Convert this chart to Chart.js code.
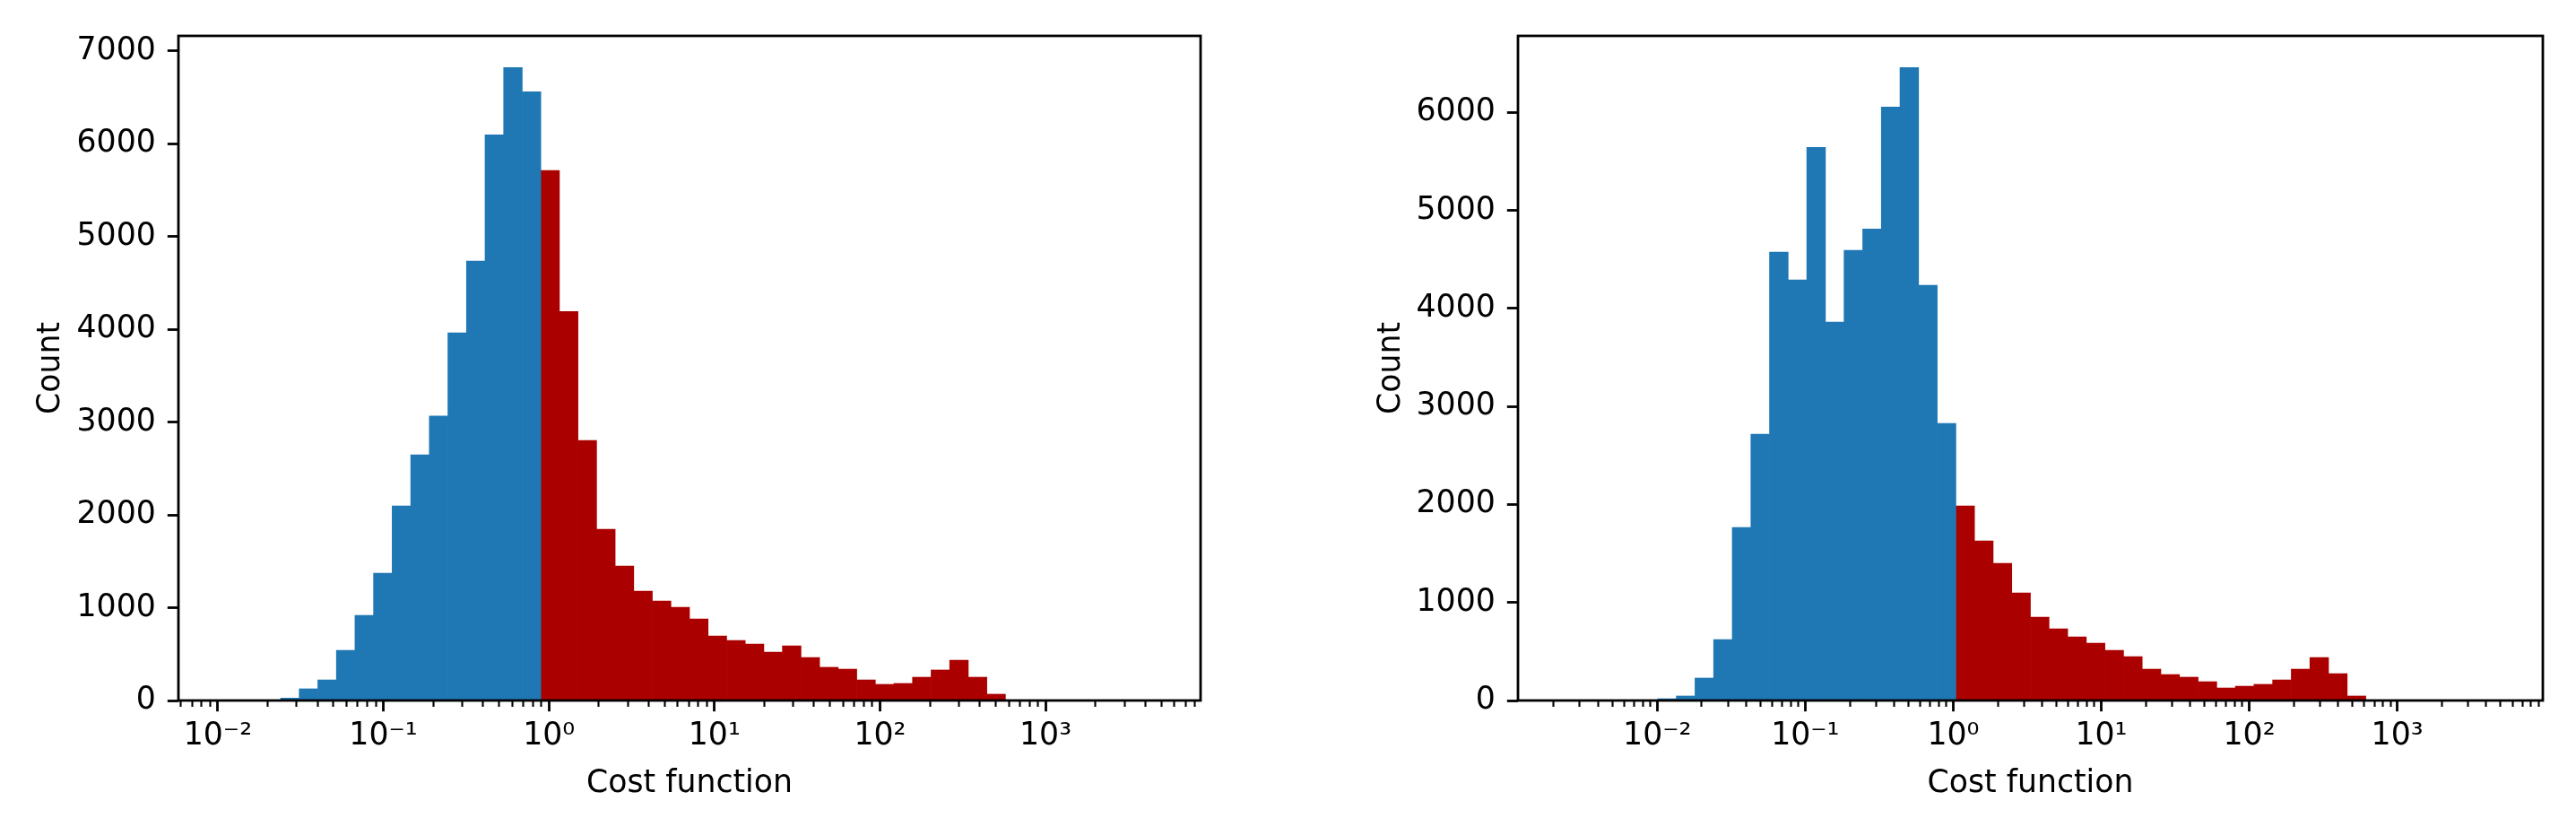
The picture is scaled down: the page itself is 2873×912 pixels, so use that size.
<!DOCTYPE html>
<html>
<head>
<meta charset="utf-8">
<script src="https://cdn.jsdelivr.net/npm/chart.js@4.4.1/dist/chart.umd.min.js"></script>
<style>
    html, body { margin: 0; padding: 0; background: #ffffff; }
    #lienzo { position: relative; width: 2873px; height: 912px; }
    canvas { position: absolute; top: 0; }
</style>
</head>
<body>
<div id="lienzo">
    <canvas id="hist-izq" width="1436" height="912" style="left:0px"></canvas>
    <canvas id="hist-der" width="1437" height="912" style="left:1436px"></canvas>
</div>
<script>
// ============================================================
// Histogramas de la función de coste (dos ejecuciones)
// Eje x logarítmico: los bins se expresan en log10
// ============================================================

// --- Panel izquierdo: 50 bins log-uniformes entre estos log10 ---
const IZQ_RANGO_LOG = [-1.957, 3.656];
// bins 0-16 (coste < 1)
const IZQ_BAJO = [1, 0, 0, 26, 126, 222, 541, 918, 1372, 2097, 2648, 3067, 3962, 4736, 6098, 6823, 6562];
// bins 17-49 (coste >= 1)
const IZQ_ALTO = [5712, 4194, 2803, 1846, 1450, 1179, 1073, 1005, 879, 696, 648, 609, 522, 590, 464,
    358, 338, 222, 174, 184, 251, 329, 435, 251, 68, 0, 0, 0, 0, 0, 0, 0, 1];

// --- Panel derecho ---
const DER_RANGO_LOG = [-2.626, 3.669];
// bins 0-20
const DER_BAJO = [1, 0, 0, 0, 0, 18, 46, 229, 622, 1766, 2717, 4575, 4291, 5645, 3861, 4593, 4812,
    6057, 6459, 4236, 2827];
// bins 21-49
const DER_ALTO = [1985, 1629, 1400, 1098, 851, 732, 650, 586, 512, 448, 320, 265, 238, 192, 128, 146,
    165, 210, 320, 439, 274, 46, 0, 0, 0, 0, 0, 0, 1];

// Ticks del eje x
const X_EXPONENTES = [-3, -2, -1, 0, 1, 2, 3];
const X_ETIQUETAS = ['10\u207B\u00B3', '10\u207B\u00B2', '10\u207B\u00B9', '10\u2070', '10\u00B9', '10\u00B2', '10\u00B3'];
const X_MENORES = [2, 3, 4, 5, 6, 7, 8, 9];
const Y_PASO = 1000;

const TITULO_X = 'Cost function';
const TITULO_Y = 'Count';

const AZUL = '#1f77b4';
const ROJO = '#aa0000';
const FUENTE = { family: 'DejaVu Sans', size: 34.7 };

// marco completo alrededor del área (spines de matplotlib)
const pluginMarco = {
    id: 'marco',
    afterDatasetsDraw(chart) {
        const { ctx, chartArea: a } = chart;
        ctx.save();
        ctx.strokeStyle = '#000000';
        ctx.lineWidth = 2.8;
        ctx.strokeRect(a.left, a.top, a.right - a.left, a.bottom - a.top);
        ctx.restore();
    }
};

function esMayor(tick) {
    return !!tick && Math.abs(tick.value - Math.round(tick.value)) < 1e-9;
}

function ticksLog(min, max) {
    const lista = [];
    X_EXPONENTES.forEach(n => {
        lista.push({ value: n });
        X_MENORES.forEach(m => lista.push({ value: n + Math.log10(m) }));
    });
    return lista.filter(t => t.value >= min && t.value <= max).sort((a, b) => a.value - b.value);
}

function ticksY(max) {
    const lista = [];
    for (let v = 0; v <= max; v += Y_PASO) lista.push({ value: v });
    return lista;
}

function etiquetaX(v) {
    const i = X_EXPONENTES.findIndex(n => Math.abs(n - v) < 1e-9);
    return i >= 0 ? X_ETIQUETAS[i] : '';
}

function crearHistograma(idCanvas, rangoLog, bajo, alto, caja) {
    const nBins = bajo.length + alto.length;
    const anchoBin = (rangoLog[1] - rangoLog[0]) / nBins;
    const centro = i => rangoLog[0] + (i + 0.5) * anchoBin;
    const margen = 0.05 * (rangoLog[1] - rangoLog[0]);
    const xmin = rangoLog[0] - margen;
    const xmax = rangoLog[1] + margen;
    const ymax = 1.05 * Math.max(...bajo, ...alto);

    const serieBaja = bajo.map((v, i) => ({ x: centro(i), y: v }));
    const serieAlta = alto.map((v, i) => ({ x: centro(bajo.length + i), y: v }));

    const comunBarras = {
        xAxisID: 'xb', yAxisID: 'y',
        barPercentage: 1, categoryPercentage: 1, grouped: false, borderWidth: 0
    };

    return new Chart(document.getElementById(idCanvas), {
        type: 'bar',
        data: {
            datasets: [
                { ...comunBarras, label: 'bajo', data: serieBaja, backgroundColor: AZUL },
                { ...comunBarras, label: 'alto', data: serieAlta, backgroundColor: ROJO }
            ]
        },
        options: {
            responsive: false, animation: false, devicePixelRatio: 1,
            layout: { padding: { left: 0, right: caja.derecha, top: 40, bottom: 0 } },
            plugins: { legend: { display: false }, tooltip: { enabled: false } },
            scales: {
                // eje oculto que posiciona las barras
                xb: {
                    type: 'linear', display: false, offset: false, bounds: 'data', min: xmin, max: xmax,
                    grid: { offset: false },
                    afterBuildTicks: s => { s.ticks = [{ value: xmin }, { value: xmax }]; }
                },
                x: {
                    type: 'linear', position: 'bottom', offset: false, bounds: 'data', min: xmin, max: xmax,
                    afterBuildTicks: s => { s.ticks = ticksLog(xmin, xmax); },
                    afterFit: s => { s.height = 131; },
                    border: { display: false },
                    grid: {
                        offset: false, drawOnChartArea: false, drawTicks: true, tickLength: 12.2, tickColor: '#000000',
                        tickWidth: c => esMayor(c.tick) ? 2.8 : 2.1,
                        tickBorderDash: c => esMayor(c.tick) ? [] : [7, 60]
                    },
                    ticks: {
                        autoSkip: false, maxRotation: 0, padding: 7, color: '#000000', font: FUENTE,
                        callback: v => etiquetaX(v)
                    },
                    title: {
                        display: true, text: TITULO_X, color: '#000000', font: FUENTE,
                        padding: { top: 0, bottom: 17 }
                    }
                },
                y: {
                    type: 'linear', bounds: 'data', min: 0, max: ymax,
                    afterBuildTicks: s => { s.ticks = ticksY(ymax); },
                    afterFit: s => { s.width = caja.anchoY; },
                    border: { display: false },
                    grid: { drawOnChartArea: false, drawTicks: true, tickLength: 12.2, tickWidth: 2.8, tickColor: '#000000' },
                    ticks: {
                        padding: 13, color: '#000000', font: FUENTE,
                        callback: v => String(v)
                    },
                    title: {
                        display: true, text: TITULO_Y, color: '#000000', font: FUENTE,
                        padding: { top: caja.tituloY, bottom: 0 }
                    }
                }
            }
        },
        plugins: [pluginMarco]
    });
}

crearHistograma('hist-izq', IZQ_RANGO_LOG, IZQ_BAJO, IZQ_ALTO, { anchoY: 199, derecha: 97, tituloY: 36 });
crearHistograma('hist-der', DER_RANGO_LOG, DER_BAJO, DER_ALTO, { anchoY: 257, derecha: 37, tituloY: 95 });
</script>
</body>
</html>
